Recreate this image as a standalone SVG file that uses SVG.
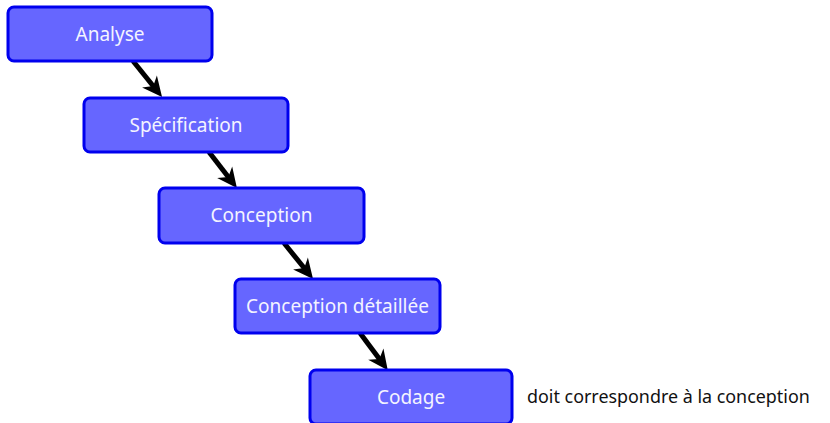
<svg xmlns="http://www.w3.org/2000/svg" width="830" height="423" viewBox="0 0 830 423">
  <style>
    .box rect { fill: #6666ff; stroke: #0000ee; stroke-width: 3; }
    .box text { fill: #f4f4ff; font-family: "Noto Sans", "DejaVu Sans", sans-serif; font-size: 19px; text-anchor: middle; }
    .note { fill: #111111; font-family: "Noto Sans", "DejaVu Sans", sans-serif; font-size: 17.9px; }
    .link { stroke: #000000; stroke-width: 5; fill: none; marker-end: url(#head); }
  </style>
  <defs>
    <!-- stealth-style head; tip sits 9 units beyond the line end -->
    <marker id="head" viewBox="-22 -11 24 22" refX="-9" refY="0" markerWidth="24" markerHeight="22" markerUnits="userSpaceOnUse" orient="auto">
      <path d="M0,0 L-20,-9.5 L-14,0 L-20,9.5 Z" fill="#000000"/>
    </marker>
  </defs>

  <g id="connectors">
    <line class="link" x1="133" y1="61" x2="156.4" y2="90" />
    <line class="link" x1="209" y1="152" x2="231.4" y2="181" />
    <line class="link" x1="284" y1="243" x2="307.4" y2="272" />
    <line class="link" x1="360" y1="333" x2="382.4" y2="363" />
  </g>

  <g id="analyse" class="box">
    <rect x="8" y="7" width="204" height="54" rx="6"/>
    <text x="110" y="40.5">Analyse</text>
  </g>
  <g id="specification" class="box">
    <rect x="84" y="98" width="204" height="54" rx="6"/>
    <text x="186" y="131.5">Spécification</text>
  </g>
  <g id="conception" class="box">
    <rect x="159" y="188" width="205" height="55" rx="6"/>
    <text x="261.5" y="221.5">Conception</text>
  </g>
  <g id="conception-detaillee" class="box">
    <rect x="235" y="279" width="205" height="54" rx="6"/>
    <text x="337.5" y="312.5">Conception détaillée</text>
  </g>
  <g id="codage" class="box">
    <rect x="310" y="370" width="202" height="54" rx="6"/>
    <text x="411" y="403.5">Codage</text>
  </g>

  <text id="note" class="note" x="527" y="403">doit correspondre à la conception</text>
</svg>
